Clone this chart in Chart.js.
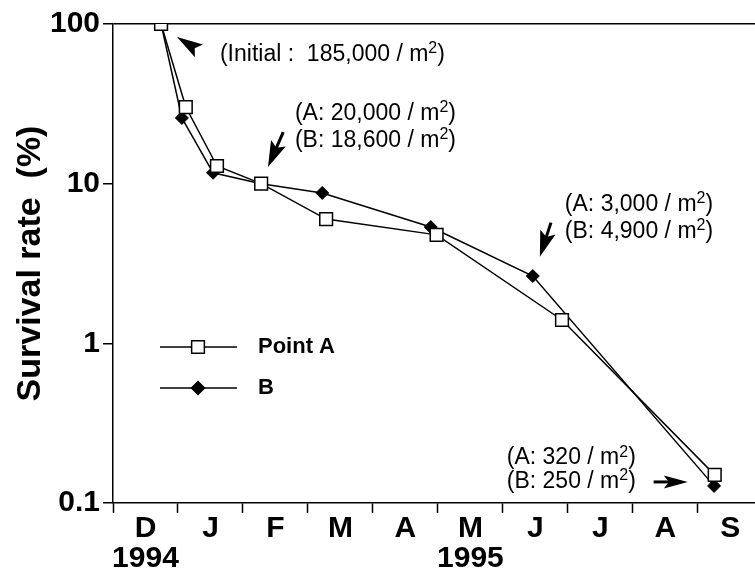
<!DOCTYPE html>
<html>
<head>
<meta charset="utf-8">
<script src="https://cdn.jsdelivr.net/npm/chart.js@4/dist/chart.umd.min.js"></script>
<style>
  html, body { margin: 0; padding: 0; background: #fff; }
  #wrap { width: 755px; height: 572px; }
</style>
</head>
<body>
<div id="wrap"><canvas id="survivalChart" width="755" height="572"></canvas></div>
<script>
// month slots on the x axis, D (1994) .. S (1995); years go under the slot index
const monthLabels = ["D", "J", "F", "M", "A", "M", "J", "J", "A", "S"];
const yearLabels = { 0: "1994", 5: "1995" };
const yTicks = [0.1, 1, 10, 100];

// x = months after 1 Dec 1994, y = survival rate (%)
const monthsA = [0.74, 1.12, 1.60, 2.28, 3.28, 4.98, 6.91, 9.26];
const survivalA = [100, 30.2, 12.9, 10.0, 6.0, 4.78, 1.40, 0.150];
const monthsB = [0.74, 1.06, 1.54, 2.28, 3.22, 4.89, 6.46, 9.25];
const survivalB = [100, 25.8, 11.7, 10.0, 8.75, 5.35, 2.64, 0.128];

// density notes, placed in data coordinates
const notes = [
  { text: "(Initial :  185,000 / m²)", x: 1.646, y: 64.0, align: "left" },
  { text: "(A: 20,000 / m²)", x: 2.80, y: 27.3, align: "left" },
  { text: "(B: 18,600 / m²)", x: 2.80, y: 18.5, align: "left" },
  { text: "(A: 3,000 / m²)", x: 6.954, y: 7.35, align: "left" },
  { text: "(B: 4,900 / m²)", x: 6.954, y: 4.98, align: "left" },
  { text: "(A: 320 / m²)", x: 8.046, y: 0.191, align: "right" },
  { text: "(B: 250 / m²)", x: 8.046, y: 0.137, align: "right" },
];
const arrows = [
  { from: [1.323, 67.8], to: [0.985, 82.9], head: 26, width: 15, shaft: 0 },
  { from: [2.62, 21.0], to: [2.385, 12.7], head: 26, width: 16, shaft: 3 },
  { from: [6.74, 5.7], to: [6.569, 3.48], head: 26, width: 16, shaft: 3 },
  { from: [8.32, 0.1355], to: [8.846, 0.1355], head: 24, width: 13, shaft: 3 },
];

const FONT = "'Liberation Sans', Arial, Helvetica, sans-serif";

const toPoints = (xs, ys) => xs.map((x, i) => ({ x: x, y: ys[i] }));

function drawMarker(ctx, style, x, y, r) {
  ctx.beginPath();
  if (style === "rect") {
    const s = r * Math.SQRT1_2;
    ctx.rect(x - s, y - s, 2 * s, 2 * s);
    ctx.fillStyle = "#fff";
  } else {
    ctx.moveTo(x, y - r);
    ctx.lineTo(x + r, y);
    ctx.lineTo(x, y + r);
    ctx.lineTo(x - r, y);
    ctx.closePath();
    ctx.fillStyle = "#000";
  }
  ctx.fill();
  ctx.lineWidth = 1.5;
  ctx.strokeStyle = "#000";
  ctx.stroke();
}

// text with a raised "2" for m²
function drawNote(ctx, text, x, y, align) {
  const big = "23px " + FONT, small = "16px " + FONT;
  const parts = text.split("²");
  ctx.font = big;
  const w0 = ctx.measureText(parts[0]).width;
  const w2 = ctx.measureText(parts[1] || "").width;
  ctx.font = small;
  const ws = ctx.measureText("2").width;
  const total = w0 + ws + w2;
  let cx = align === "right" ? x - total : x;
  ctx.textAlign = "left";
  ctx.font = big;
  ctx.fillText(parts[0], cx, y);
  cx += w0;
  ctx.font = small;
  ctx.fillText("2", cx, y - 6);
  cx += ws;
  ctx.font = big;
  ctx.fillText(parts[1] || "", cx, y);
}

const notesPlugin = {
  id: "notes",
  afterDatasetsDraw(chart) {
    const { ctx, scales: { x, y } } = chart;
    ctx.save();
    ctx.fillStyle = "#000";
    ctx.textBaseline = "middle";
    notes.forEach((n) => {
      drawNote(ctx, n.text, x.getPixelForValue(n.x), y.getPixelForValue(n.y), n.align);
    });

    arrows.forEach((a) => {
      const x0 = x.getPixelForValue(a.from[0]), y0 = y.getPixelForValue(a.from[1]);
      const x1 = x.getPixelForValue(a.to[0]), y1 = y.getPixelForValue(a.to[1]);
      const len = Math.hypot(x1 - x0, y1 - y0);
      const ux = (x1 - x0) / len, uy = (y1 - y0) / len;
      const bx = x1 - ux * a.head, by = y1 - uy * a.head;
      if (a.shaft > 0 && len > a.head) {
        ctx.beginPath();
        ctx.moveTo(x0, y0);
        ctx.lineTo(bx + ux * 10, by + uy * 10);
        ctx.lineWidth = a.shaft;
        ctx.strokeStyle = "#000";
        ctx.stroke();
      }
      ctx.beginPath();
      ctx.moveTo(x1, y1);
      ctx.lineTo(bx - uy * a.width / 2, by + ux * a.width / 2);
      ctx.lineTo(bx + ux * 5, by + uy * 5);
      ctx.lineTo(bx + uy * a.width / 2, by - ux * a.width / 2);
      ctx.closePath();
      ctx.fill();
    });

    // legend inside the plot
    const left = chart.chartArea.left;
    chart.data.datasets.forEach((ds, i) => {
      const ly = 347 + i * 41;
      ctx.beginPath();
      ctx.moveTo(left + 47, ly);
      ctx.lineTo(left + 124, ly);
      ctx.lineWidth = 1.3;
      ctx.strokeStyle = "#000";
      ctx.stroke();
      drawMarker(ctx, ds.pointStyle, left + 85, ly, ds.pointRadius);
      ctx.fillStyle = "#000";
      ctx.font = "bold 22px " + FONT;
      ctx.textAlign = "left";
      ctx.fillText(ds.label, left + 145, ly);
    });
    ctx.restore();
  },
};

const ctx = document.getElementById("survivalChart").getContext("2d");

const chart = new Chart(ctx, {
  type: "line",
  data: {
    datasets: [
      {
        label: "Point A",
        data: toPoints(monthsA, survivalA),
        borderColor: "#000",
        borderWidth: 1.5,
        pointStyle: "rect",
        pointRadius: 9,
        pointBackgroundColor: "#fff",
        pointBorderColor: "#000",
        pointBorderWidth: 1.5,
        tension: 0,
      },
      {
        label: "B",
        data: toPoints(monthsB, survivalB),
        borderColor: "#000",
        borderWidth: 1.5,
        pointStyle: "rectRot",
        pointRadius: 6.5,
        pointBackgroundColor: "#000",
        pointBorderColor: "#000",
        pointBorderWidth: 1,
        tension: 0,
      },
    ],
  },
  options: {
    responsive: false,
    animation: false,
    layout: { autoPadding: false, padding: { top: 24, right: 0, bottom: 0, left: 0 } },
    plugins: { legend: { display: false }, tooltip: { enabled: false } },
    scales: {
      x: {
        type: "linear",
        min: 0,
        max: 9.88,
        afterBuildTicks: (scale) => {
          const t = [];
          for (let i = 0; i < monthLabels.length * 2; i++) t.push({ value: i / 2 });
          scale.ticks = t;
        },
        afterFit: (scale) => { scale.height = 69; },
        grid: {
          drawOnChartArea: false,
          tickLength: 10,
          tickWidth: 1.5,
          tickColor: (c) => (c.tick && Number.isInteger(c.tick.value) ? "#000" : "rgba(0,0,0,0)"),
        },
        border: { color: "#000", width: 1.5 },
        ticks: {
          autoSkip: false,
          maxRotation: 0,
          padding: 1,
          color: "#000",
          font: { family: FONT, size: 30, weight: "bold", lineHeight: 1 },
          callback: (v) => {
            if (Number.isInteger(v)) return "";
            const i = Math.floor(v);
            return yearLabels[i] ? [monthLabels[i], yearLabels[i]] : monthLabels[i];
          },
        },
      },
      y: {
        type: "logarithmic",
        min: 0.1,
        max: 100,
        afterBuildTicks: (scale) => { scale.ticks = yTicks.map((v) => ({ value: v })); },
        afterFit: (scale) => { scale.width = 113; },
        grid: {
          lineWidth: 1.5,
          tickLength: 10,
          tickWidth: 1.5,
          tickColor: "#000",
          color: (c) => (c.tick && c.tick.value === 100 ? "#000" : "rgba(0,0,0,0)"),
        },
        border: { color: "#000", width: 1.5 },
        ticks: {
          padding: 3,
          color: "#000",
          font: { family: FONT, size: 30, weight: "bold" },
          callback: (v) => String(v),
        },
        title: {
          display: true,
          text: "Survival rate  (%)",
          color: "#000",
          font: { family: FONT, size: 34, weight: "bold" },
          padding: { top: 10, bottom: 0 },
        },
      },
    },
  },
  plugins: [notesPlugin],
});
</script>
</body>
</html>
